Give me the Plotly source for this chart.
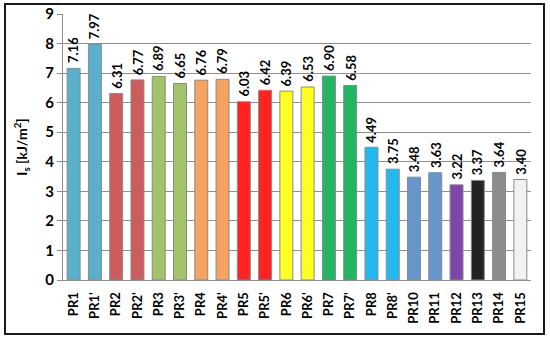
import plotly.graph_objects as go

categories = ["PR1", "PR1'", "PR2", "PR2'", "PR3", "PR3'", "PR4", "PR4'", "PR5", "PR5'",
              "PR6", "PR6'", "PR7", "PR7'", "PR8", "PR8'", "PR10", "PR11", "PR12", "PR13",
              "PR14", "PR15"]
values = [7.16, 7.97, 6.31, 6.77, 6.89, 6.65, 6.76, 6.79, 6.03, 6.42,
          6.39, 6.53, 6.90, 6.58, 4.49, 3.75, 3.48, 3.63, 3.22, 3.37,
          3.64, 3.40]
labels = ["7.16", "7.97", "6.31", "6.77", "6.89", "6.65", "6.76", "6.79", "6.03", "6.42",
          "6.39", "6.53", "6.90", "6.58", "4.49", "3.75", "3.48", "3.63", "3.22", "3.37",
          "3.64", "3.40"]
colors = ["#5AB0CC", "#5AB0CC", "#CB5D5D", "#CB5D5D", "#A2C36A", "#A2C36A",
          "#F6A261", "#F6A261", "#FF2222", "#FF2222", "#FFFF22", "#FFFF22",
          "#22B562", "#22B562", "#22B8F0", "#22B8F0", "#6696CC", "#6696CC",
          "#7E45AA", "#232323", "#8C8C8C", "#F2F2F2"]

font_family = "Lato, Open Sans, sans-serif"

fig = go.Figure(go.Bar(
    x=categories, y=values,
    marker=dict(color=colors, line=dict(color="#8a8a8a", width=1)),
    hoverinfo="x+y",
))

for cat, val, lab in zip(categories, values, labels):
    fig.add_annotation(x=cat, y=val, text=lab, showarrow=False, textangle=-90,
                       xanchor="center", yanchor="bottom", yshift=3,
                       font=dict(family=font_family, size=13, color="black", weight="bold"))

fig.update_layout(
    width=550, height=339,
    margin=dict(l=63, r=19, t=14, b=59, autoexpand=False),
    paper_bgcolor="white", plot_bgcolor="white",
    bargap=0.39, showlegend=False,
    font=dict(family=font_family, color="black"),
)
fig.update_yaxes(
    range=[0, 9], dtick=1, showgrid=True, gridcolor="#8f8f8f", gridwidth=1,
    showline=True, linecolor="#8f8f8f", linewidth=1,
    ticks="outside", ticklen=5, tickcolor="#8f8f8f",
    tickfont=dict(size=15, family=font_family, weight="bold"),
    title=dict(text="I<sub>s</sub> [kJ/m<sup>2</sup>]", standoff=14,
               font=dict(size=14, family=font_family, weight="bold")),
    zeroline=False, automargin=False,
)
fig.update_xaxes(
    showline=True, linecolor="#8f8f8f", linewidth=1,
    tickangle=-90, tickfont=dict(size=13, family=font_family, weight="bold"),
    ticks="", automargin=False, ticklabelstandoff=6,
)
fig.add_shape(type="rect", xref="paper", yref="paper",
              x0=(5 - 63) / 468, x1=(544 - 63) / 468,
              y0=(280 - 334) / 266, y1=(280 - 4) / 266,
              line=dict(color="#1a1a1a", width=2), layer="above")

fig.write_html("out.html", config={"displayModeBar": False},
               post_script="document.body.style.margin='0';document.body.style.overflow='hidden';")
